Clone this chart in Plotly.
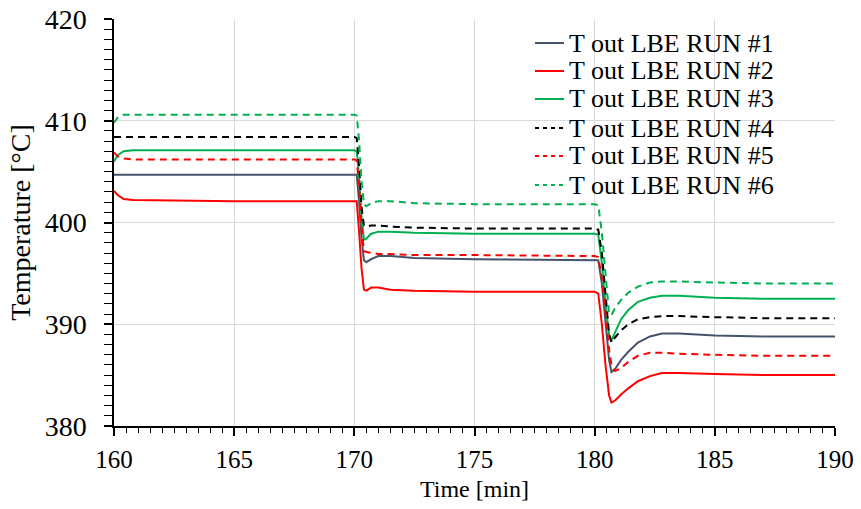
import plotly.graph_objects as go

# Time points (min)
time = [160, 160.15, 160.4, 160.8, 165, 170, 170.1, 170.2, 170.3, 170.4, 170.5, 170.7, 171, 171.5,
        172.5, 175, 180, 180.15, 180.3, 180.45, 180.6, 180.7, 180.85, 181.1, 181.4, 181.8, 182.3,
        182.8, 183.5, 185, 187, 190]

run1 = [404.7, 404.7, 404.7, 404.7, 404.7, 404.7, 404.7, 402.0, 398.5, 396.3, 396.1, 396.4, 396.7, 396.7,
        396.5, 396.4, 396.3, 396.3, 394.0, 390.0, 386.5, 385.3, 385.6, 386.5, 387.3, 388.2, 388.8,
        389.1, 389.1, 388.9, 388.8, 388.8]
run2 = [403.1, 402.7, 402.3, 402.2, 402.1, 402.1, 402.1, 399.0, 395.5, 393.4, 393.3, 393.6, 393.6, 393.4,
        393.3, 393.2, 393.2, 393.0, 390.0, 386.0, 383.0, 382.3, 382.5, 383.1, 383.7, 384.4, 384.9,
        385.2, 385.2, 385.1, 385.0, 385.0]
run3 = [406.0, 406.6, 407.0, 407.1, 407.1, 407.1, 407.0, 404.5, 400.5, 398.3, 398.4, 398.9, 399.1, 399.1,
        399.0, 398.9, 398.9, 398.8, 396.0, 392.0, 389.0, 388.4, 389.2, 390.5, 391.4, 392.2, 392.6,
        392.8, 392.8, 392.6, 392.5, 392.5]
run4 = [408.4, 408.4, 408.4, 408.4, 408.4, 408.4, 408.3, 405.5, 401.5, 399.7, 399.6, 399.7, 399.7, 399.6,
        399.5, 399.4, 399.4, 399.3, 397.0, 393.0, 389.0, 388.2, 388.7, 389.4, 390.0, 390.5, 390.7,
        390.8, 390.8, 390.7, 390.6, 390.6]
run5 = [406.9, 406.5, 406.3, 406.2, 406.2, 406.2, 406.1, 403.5, 399.5, 397.2, 397.1, 397.0, 396.9, 396.9,
        396.8, 396.8, 396.7, 396.6, 394.5, 391.0, 387.5, 386.0, 385.4, 385.7, 386.3, 386.9, 387.2,
        387.2, 387.1, 387.0, 386.9, 386.9]
run6 = [409.8, 410.3, 410.6, 410.6, 410.6, 410.6, 410.5, 408.0, 404.0, 401.8, 401.6, 401.9, 402.1, 402.1,
        401.9, 401.8, 401.8, 401.7, 399.0, 395.0, 391.0, 390.9, 391.6, 392.4, 393.1, 393.7, 394.1,
        394.2, 394.2, 394.1, 394.0, 394.0]

names = ["T out LBE RUN #1", "T out LBE RUN #2", "T out LBE RUN #3",
         "T out LBE RUN #4", "T out LBE RUN #5", "T out LBE RUN #6"]
series = [run1, run2, run3, run4, run5, run6]
colors = ["#44546A", "#FF0000", "#00B050", "#000000", "#FF0000", "#00B050"]
dashes = ["solid", "solid", "solid", "7px,5px", "7px,5px", "7px,5px"]

FONT = "Liberation Serif"

fig = go.Figure()
for name, y, c, d in zip(names, series, colors, dashes):
    fig.add_trace(go.Scatter(x=time, y=y, mode="lines", name=name,
                             line=dict(color=c, width=2, dash=d), showlegend=False))

W, H = 861, 509
ml, mr, mt, mb = 114, 26, 19, 83
pw, ph = W - ml - mr, H - mt - mb

# manual legend
row_y = [43, 71, 99, 128, 156, 185]
for name, c, d, ry in zip(names, colors, dashes, row_y):
    yp = (H - mb - ry) / ph
    fig.add_shape(type="line", xref="paper", yref="paper",
                  x0=(535 - ml) / pw, x1=(564 - ml) / pw, y0=yp, y1=yp,
                  line=dict(color=c, width=2, dash=("solid" if d == "solid" else "4px,4px")))
    fig.add_annotation(xref="paper", yref="paper", x=(567 - ml) / pw, y=yp,
                       text=name, showarrow=False, xanchor="left", yanchor="middle",
                       font=dict(family=FONT, size=26, color="#000000"))

fig.update_layout(
    width=W, height=H,
    margin=dict(l=ml, r=mr, t=mt, b=mb, pad=0, autoexpand=False),
    paper_bgcolor="white", plot_bgcolor="white",
    font=dict(family=FONT, color="#000000"),
    xaxis=dict(range=[160, 190], dtick=5, tick0=160, automargin=False,
               showline=True, linecolor="#000000", linewidth=1.5,
               ticks="outside", ticklen=8, tickcolor="#000000", tickwidth=1.5,
               minor=dict(dtick=0.5, ticks="outside", ticklen=5, tickcolor="#000000", tickwidth=1.2, showgrid=False),
               showgrid=True, gridcolor="#D9D9D9", gridwidth=1, zeroline=False,
               tickfont=dict(family=FONT, size=25), ticklabelstandoff=2,
               title=dict(text="Time [min]", font=dict(family=FONT, size=24), standoff=8)),
    yaxis=dict(range=[380, 420], dtick=10, tick0=380, automargin=False,
               showline=True, linecolor="#000000", linewidth=1.5,
               ticks="outside", ticklen=8, tickcolor="#000000", tickwidth=1.5,
               minor=dict(dtick=1, ticks="outside", ticklen=8, tickcolor="#000000", tickwidth=1.2, showgrid=False),
               showgrid=True, gridcolor="#D9D9D9", gridwidth=1, zeroline=False,
               tickfont=dict(family=FONT, size=28), ticklabelstandoff=12,
               title=dict(text="Temperature [°C]", font=dict(family=FONT, size=28), standoff=6)),
)

fig.write_html("out.html")
